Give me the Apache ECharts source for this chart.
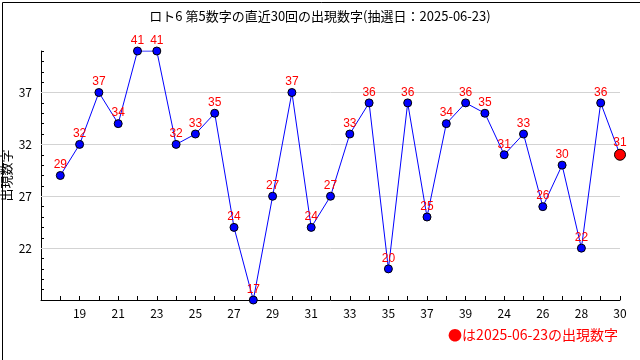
<!DOCTYPE html>
<html><head><meta charset="utf-8">
<script src="https://cdn.jsdelivr.net/npm/echarts@6/dist/echarts.min.js"></script>
<style>html,body{margin:0;padding:0;background:#fff}#c{width:640px;height:360px}</style>
</head><body><div id="c"></div>
<script>
const titleText = 'ロト6 第5数字の直近30回の出現数字(抽選日：2025-06-23)';
const yName = '出現数字';
const noteText = '●は2025-06-23の出現数字';
const xTickLabels = ['19','21','23','25','27','29','31','33','35','37','39','24','26','28','30'];
const values = [29,32,37,34,41,41,32,33,35,24,17,27,37,24,27,33,36,20,36,25,34,36,35,31,33,26,30,22,36,31];
const yTickValues = [22,27,32,37];
const yMin = 17, yMax = 41;

const JP = "'Noto Sans CJK JP', sans-serif";
const chart = echarts.init(document.getElementById('c'), null, {renderer: 'canvas'});
const lastIdx = values.length - 1;
const data = values.map((v, i) => {
  const item = {value: [i + 1, v]};
  if (i === lastIdx) {
    item.symbolSize = 11;
    item.itemStyle = {color: '#ff0000', borderColor: '#000', borderWidth: 1};
  }
  return item;
});
const gridLines = yTickValues.map(v => [{coord: [0, v]}, {coord: [values.length, v]}]);

chart.setOption({
  animation: false,
  backgroundColor: '#fff',
  title: {
    text: titleText, left: 'center', top: 5,
    textStyle: {fontFamily: JP, fontSize: 13, fontWeight: 'normal', color: '#000'}
  },
  grid: {left: 41, right: 20, top: 51, bottom: 60, containLabel: false, outerBoundsMode: 'none'},
  xAxis: {
    type: 'value', min: 0, max: values.length, interval: 1,
    axisLine: {show: true, lineStyle: {color: '#000', width: 1}},
    axisTick: {show: true, inside: true, length: 4, lineStyle: {color: '#000'}},
    axisLabel: {
      fontFamily: JP, fontSize: 12, color: '#000', margin: 7,
      showMinLabel: true, showMaxLabel: true,
      formatter: v => (v > 0 && v % 2 === 0) ? xTickLabels[v / 2 - 1] : ''
    },
    splitLine: {show: false}
  },
  yAxis: [{
    type: 'value', min: yMin, max: yMax, interval: 1,
    name: yName, nameLocation: 'middle', nameRotate: 90, nameGap: 28, nameMoveOverlap: false,
    nameTextStyle: {fontFamily: JP, fontSize: 13, color: '#000'},
    axisLine: {show: true, lineStyle: {color: '#000', width: 1}},
    axisTick: {show: true, inside: true, length: 3, lineStyle: {color: '#000'}},
    axisLabel: {fontFamily: JP, fontSize: 12, color: '#000', margin: 9, customValues: yTickValues},
    splitLine: {show: false}
  }, {
    type: 'value', min: yMin, max: yMax, position: 'left', offset: 0,
    axisLine: {show: false},
    axisTick: {show: true, inside: true, length: 5, lineStyle: {color: '#000'}, customValues: yTickValues},
    axisLabel: {show: false},
    splitLine: {show: false}
  }],
  series: [{
    type: 'line', yAxisIndex: 0, data: data,
    symbol: 'circle', symbolSize: 8,
    lineStyle: {color: '#0000ff', width: 1},
    itemStyle: {color: '#0000ff', borderColor: '#000', borderWidth: 1},
    label: {show: true, position: 'top', distance: 0, color: '#ff0000',
      fontFamily: "'Liberation Sans', Arial, sans-serif", fontSize: 12,
      formatter: p => String(p.value[1])},
    emphasis: {disabled: true},
    markLine: {
      silent: true, symbol: 'none', label: {show: false}, z: 1,
      lineStyle: {color: '#d3d3d3', width: 1, type: 'solid'},
      emphasis: {disabled: true},
      data: gridLines
    },
    z: 3
  }],
  graphic: [{
    type: 'text', x: 618, y: 335, silent: true,
    style: {text: noteText, fill: '#ff0000', font: "14px 'Noto Sans CJK JP'", align: 'right', verticalAlign: 'middle'}
  }, {
    type: 'rect', left: 0, top: 0, silent: true,
    shape: {x: 0.5, y: 0.5, width: 639, height: 359},
    style: {fill: 'none', stroke: '#000', lineWidth: 1}
  }]
});
</script></body></html>
